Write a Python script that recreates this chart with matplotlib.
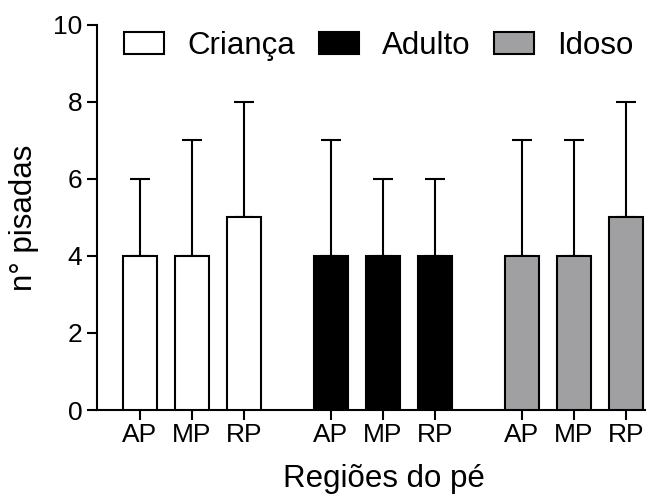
import numpy as np
import matplotlib
matplotlib.use("Agg")
import matplotlib.pyplot as plt

plt.rcParams["font.family"] = ["Liberation Sans", "DejaVu Sans"]

groups = ["Criança", "Adulto", "Idoso"]
regions = ["AP", "MP", "RP"]
means = {"Criança": [4, 4, 5], "Adulto": [4, 4, 4], "Idoso": [4, 4, 5]}
upper = {"Criança": [6, 7, 8], "Adulto": [7, 6, 6], "Idoso": [7, 7, 8]}
colors = {"Criança": "white", "Adulto": "black", "Idoso": "#a0a0a2"}

fig = plt.figure(figsize=(6.63, 4.97), dpi=100)
ax = fig.add_axes([0.146, 0.175, 0.827, 0.775])

group_step = 3.67
width = 0.65
ticks, labels = [], []
for g, name in enumerate(groups):
    x = np.arange(3) + g * group_step
    m = np.array(means[name]); u = np.array(upper[name])
    ax.bar(x, m, width=width, color=colors[name], edgecolor="black",
           linewidth=1.5, label=name, zorder=3)
    # only the upper whisker, as in the original
    ax.errorbar(x, m, yerr=[np.zeros(3), u - m], fmt="none", ecolor="black",
                elinewidth=1.5, capsize=7, capthick=1.5, zorder=2)
    ticks += list(x); labels += regions

ax.set_xlim(-0.83, 9.71)
ax.set_ylim(0, 10)
ax.set_yticks([0, 2, 4, 6, 8, 10])
ax.set_xticks(ticks)
ax.set_xticklabels(labels)
for s in ["top", "right"]:
    ax.spines[s].set_visible(False)
for s in ["left", "bottom"]:
    ax.spines[s].set_linewidth(1.5)
ax.tick_params(axis="both", width=1.5, length=7, labelsize=19, direction="out")
ax.tick_params(axis="x", pad=2)
ax.set_ylabel("n° pisadas", fontsize=22.5)
ax.set_xlabel("Regiões do pé", fontsize=22.5)
ax.yaxis.set_label_coords(-0.105, 0.5)
ax.xaxis.set_label_coords(0.524, -0.14)

fig.legend(*ax.get_legend_handles_labels(), loc="center",
           bbox_to_anchor=(379 / 663, 1 - 46 / 497), ncol=3, frameon=False,
           fontsize=22.5, handlelength=1.29, handleheight=0.71, handletextpad=0.74,
           columnspacing=0.75, borderaxespad=0, borderpad=0)

fig.savefig("out.png", dpi=100)
